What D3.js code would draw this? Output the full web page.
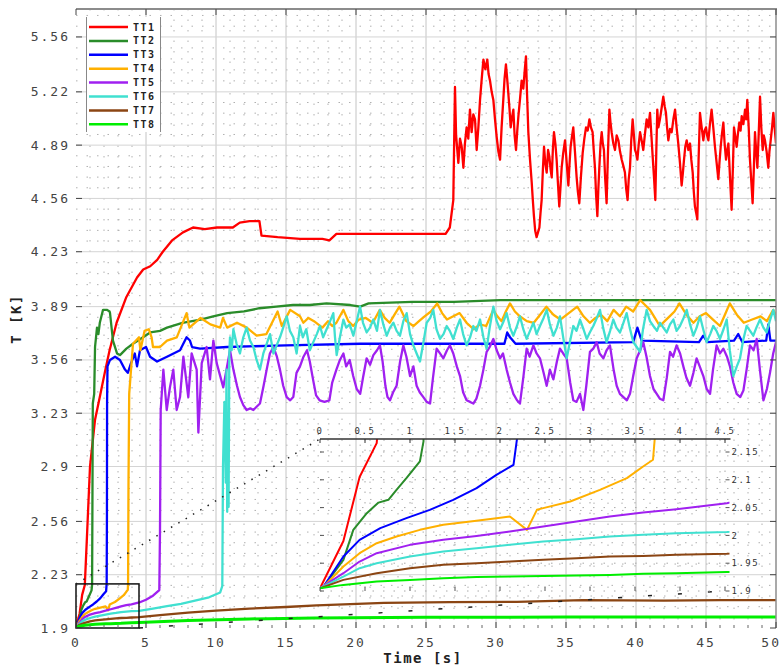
<!DOCTYPE html>
<html>
<head>
<meta charset="utf-8">
<script src="https://cdn.jsdelivr.net/npm/d3@7"></script>
<style>
  body { margin: 0; background: #fff; }
  svg { display: block; }
  text { font-family: "DejaVu Sans Mono", "Liberation Mono", monospace; }
</style>
</head>
<body>
<svg id="chart" width="781" height="666"></svg>
<script>
// ---- data: temperature sensors TT1..TT8, [time s, T K] ----
const seriesNames = ["TT1", "TT2", "TT3", "TT4", "TT5", "TT6", "TT7", "TT8"];
const seriesColors = ["#ff0000", "#2a8c2a", "#0000ff", "#ffb000", "#a020f0", "#40e0d0", "#8b4513", "#00ee00"];

const tt1 = [[0,1.905],[0.26,1.99],[0.44,2.105],[0.63,2.166],[0.8,2.5],[1.0,2.9],[1.36,3.19],[1.7,3.33],[2.1,3.5],[2.4,3.62],[2.9,3.79],[3.6,3.95],[4.36,4.07],[4.8,4.12],[5.3,4.14],[5.8,4.18],[6.2,4.23],[6.86,4.3],[7.64,4.35],[8.36,4.38],[9.2,4.37],[10.07,4.38],[11.2,4.38],[11.7,4.41],[12.4,4.42],[13.1,4.42],[13.25,4.33],[14.4,4.32],[16.0,4.31],[17.6,4.31],[18.1,4.30],[18.6,4.34],[22.0,4.34],[26.4,4.34],[26.7,4.38],
  [26.95,4.55],[27.07,5.25],[27.15,4.95],[27.31,4.78],[27.43,4.93],[27.55,4.88],[27.67,4.75],[27.78,4.9],[27.9,5.0],[28.02,4.93],[28.14,5.11],[28.26,4.97],[28.38,5.08],[28.5,5.05],[28.62,4.86],[28.74,5.0],[28.86,5.17],[28.98,5.3],[29.1,5.42],[29.24,5.36],[29.38,5.42],[29.47,5.33],[29.57,5.29],[29.69,5.22],[29.81,5.17],[29.93,5.05],[30.05,4.94],[30.17,4.85],[30.29,4.8],[30.4,5.0],[30.52,5.17],[30.61,5.3],[30.71,5.39],[30.8,5.3],[30.88,5.21],[30.96,5.12],[31.05,5.0],[31.14,5.06],[31.24,5.11],[31.33,4.95],[31.43,4.86],[31.52,4.98],[31.6,5.07],[31.72,5.18],[31.83,5.29],[31.95,5.24],[32.05,5.35],[32.14,5.44],[32.22,5.2],[32.31,4.97],[32.43,4.8],[32.55,4.66],[32.63,4.55],[32.71,4.45],[32.8,4.36],[32.9,4.32],[33.0,4.35],[33.1,4.38],[33.18,4.47],[33.26,4.55],[33.35,4.74],[33.43,4.88],[33.52,4.78],[33.62,4.72],[33.72,4.86],[33.81,4.82],[33.9,4.74],[33.98,4.69],[34.06,4.86],[34.14,4.97],[34.24,4.9],[34.33,4.8],[34.42,4.66],[34.52,4.51],[34.6,4.62],[34.69,4.75],[34.8,4.84],[34.93,4.92],[35.05,4.78],[35.17,4.64],[35.25,4.77],[35.33,4.88],[35.42,4.94],[35.52,5.0],[35.64,4.85],[35.76,4.69],[35.85,4.6],[35.95,4.53],[36.07,4.7],[36.19,4.84],[36.31,4.93],[36.43,5.0],[36.55,4.98],[36.67,5.05],[36.78,5.0],[36.9,4.97],[36.98,4.86],[37.07,4.75],[37.15,4.58],[37.24,4.45],[37.31,4.62],[37.38,4.75],[37.47,4.9],[37.55,4.97],[37.63,4.9],[37.71,4.86],[37.8,4.68],[37.9,4.53],[38.0,4.85],[38.1,5.11],[38.18,5.03],[38.26,4.97],[38.38,4.9],[38.5,4.86],[38.62,4.95],[38.74,4.92],[38.86,4.85],[38.98,4.8],[39.1,4.76],[39.21,4.72],[39.3,4.62],[39.4,4.55],[39.48,4.68],[39.57,4.75],[39.66,4.92],[39.76,5.05],[39.85,4.95],[39.93,4.86],[40.01,4.84],[40.1,4.8],[40.2,4.9],[40.29,4.97],[40.4,4.92],[40.52,4.86],[40.64,4.96],[40.76,5.05],[40.88,5.0],[41.0,5.09],[41.1,4.95],[41.19,4.82],[41.28,4.7],[41.38,4.55],[41.45,4.85],[41.52,5.11],[41.6,5.0],[41.71,5.05],[41.83,5.12],[41.95,5.19],[42.05,5.13],[42.14,5.09],[42.22,5.0],[42.31,4.92],[42.43,4.99],[42.55,4.97],[42.67,5.05],[42.79,5.11],[42.9,5.0],[43.02,4.9],[43.14,4.78],[43.26,4.64],[43.35,4.72],[43.43,4.8],[43.52,4.88],[43.62,4.92],[43.74,4.86],[43.86,4.9],[43.95,4.8],[44.05,4.72],[44.13,4.6],[44.21,4.51],[44.3,4.47],[44.38,4.43],[44.47,4.8],[44.57,5.09],[44.69,5.0],[44.81,4.92],[44.9,4.98],[45.0,5.0],[45.08,4.95],[45.17,4.92],[45.28,5.02],[45.4,5.11],[45.52,5.0],[45.64,4.88],[45.76,4.78],[45.88,4.68],[45.96,4.78],[46.05,4.88],[46.14,4.96],[46.24,5.03],[46.33,4.9],[46.43,4.8],[46.52,4.86],[46.6,4.9],[46.71,4.7],[46.83,4.49],[46.92,4.75],[47.0,5.0],[47.1,4.94],[47.19,4.88],[47.28,4.96],[47.38,5.03],[47.47,4.98],[47.55,5.07],[47.67,5.02],[47.79,5.11],[47.87,5.05],[47.95,5.17],[48.05,5.0],[48.14,4.8],[48.24,4.66],[48.33,4.53],[48.42,4.75],[48.5,4.97],[48.58,4.86],[48.67,4.75],[48.76,4.95],[48.86,5.19],[48.95,5.0],[49.05,4.86],[49.13,4.95],[49.21,4.92],[49.33,4.85],[49.45,4.75],[49.53,4.85],[49.62,4.92],[49.72,5.0],[49.81,5.09],[49.9,5.0],[50.0,4.9]];

const tt2 = [[0,1.905],[0.04,1.908],[0.26,1.956],[0.37,2.01],[0.52,2.04],[0.65,2.059],[0.76,2.064],[0.85,2.082],[0.96,2.103],[1.11,2.133],[1.15,2.169],[1.17,2.6],[1.2,3.29],[1.3,3.35],[1.36,3.64],[1.5,3.76],[1.6,3.72],[1.7,3.79],[1.93,3.87],[2.2,3.87],[2.4,3.86],[2.43,3.85],[2.64,3.68],[2.93,3.6],[3.14,3.59],[3.6,3.63],[4.07,3.66],[4.6,3.69],[5.3,3.73],[6.0,3.74],[6.5,3.76],[7.6,3.79],[8.9,3.81],[9.8,3.83],[10.8,3.85],[12.0,3.86],[13.1,3.88],[14.3,3.89],[15.5,3.9],[16.7,3.9],[17.9,3.91],[19.6,3.9],[20.3,3.89],[20.9,3.91],[24.0,3.92],[27.0,3.92],[30.3,3.93],[35.0,3.93],[40.0,3.93],[45.0,3.93],[50.0,3.93]];

const tt3 = [[0,1.905],[0.04,1.908],[0.26,1.962],[0.44,1.992],[0.67,2.013],[0.96,2.031],[1.22,2.046],[1.48,2.064],[1.74,2.085],[1.96,2.109],[2.15,2.127],[2.19,2.175],[2.21,2.6],[2.22,3.3],[2.25,3.52],[2.43,3.56],[2.79,3.58],[3.14,3.56],[3.5,3.5],[3.7,3.48],[3.93,3.54],[4.2,3.6],[4.36,3.52],[4.57,3.62],[5.0,3.64],[5.29,3.58],[5.79,3.55],[6.5,3.58],[7.43,3.62],[7.9,3.70],[8.14,3.68],[8.29,3.64],[8.86,3.63],[10.8,3.64],[15.0,3.65],[20.3,3.66],[30.0,3.66],[30.6,3.66],[30.8,3.73],[31.0,3.7],[31.4,3.66],[39.8,3.67],[40.1,3.76],[40.4,3.68],[44.5,3.67],[44.8,3.71],[45.1,3.67],[47.0,3.68],[47.3,3.72],[47.6,3.67],[49.3,3.68],[49.45,3.78],[49.6,3.68],[50.0,3.68]];

const tt4 = [[0,1.905],[0.04,1.908],[0.26,1.944],[0.44,1.968],[0.63,1.986],[0.85,1.998],[1.11,2.01],[1.37,2.019],[1.67,2.025],[1.96,2.031],[2.11,2.034],[2.3,2.01],[2.41,2.046],[2.48,2.049],[2.78,2.061],[3.11,2.082],[3.41,2.103],[3.59,2.124],[3.7,2.136],[3.72,2.175],[3.75,2.8],[3.8,3.35],[4.07,3.66],[4.5,3.7],[4.6,3.62],[4.9,3.74],[5.2,3.75],[5.4,3.7],[5.5,3.64],[6.0,3.64],[6.5,3.68],[7.2,3.7],[7.9,3.85],[8.1,3.76],[8.9,3.82],[9.6,3.78],[10.3,3.76],[10.5,3.82],[10.8,3.76],[11.5,3.79],[12.2,3.76],[12.9,3.71],[13.6,3.72],[14.4,3.86],[14.7,3.77],[15.3,3.87],
  [16.0,3.83],[16.24,3.79],[16.6,3.82],[17.0,3.8],[17.3,3.78],[17.6,3.76],[18.0,3.8],[18.3,3.77],[18.6,3.79],[18.85,3.83],[19.1,3.87],[19.45,3.8],[19.8,3.77],[20.2,3.81],[20.7,3.82],[21.2,3.79],[21.7,3.87],[22.05,3.82],[22.4,3.79],[22.75,3.84],[23.1,3.89],[23.6,3.8],[24.1,3.77],[24.5,3.8],[24.9,3.83],[25.35,3.86],[25.8,3.91],[26.15,3.85],[26.5,3.81],[26.95,3.83],[27.4,3.85],[27.9,3.79],[28.4,3.75],[28.85,3.78],[29.3,3.77],[29.55,3.82],[29.8,3.87],[30.1,3.83],[30.4,3.8],[30.7,3.86],[31.0,3.91],[31.35,3.86],[31.7,3.83],[32.2,3.8],[32.7,3.79],[33.15,3.84],[33.6,3.89],[34.1,3.84],[34.6,3.81],[35.2,3.85],[35.8,3.89],[36.25,3.83],[36.7,3.79],[37.1,3.82],[37.5,3.84],[37.95,3.8],[38.4,3.87],[38.85,3.83],[39.3,3.89],[39.8,3.86],[40.3,3.93],[40.65,3.9],[41.0,3.87],[41.35,3.82],[41.7,3.77],[42.05,3.8],[42.4,3.83],[42.75,3.86],[43.1,3.91],[43.6,3.84],[44.1,3.79],[44.55,3.83],[45.0,3.85],[45.5,3.81],[46.0,3.77],[46.35,3.84],[46.7,3.91],[47.2,3.84],[47.7,3.79],[48.3,3.81],[48.9,3.83],[49.35,3.8],[49.8,3.87],[50.0,3.84]];

const tt5 = [[0,1.905],[0.26,1.932],[0.44,1.953],[0.63,1.968],[1.0,1.983],[1.37,1.992],[1.74,1.999],[2.11,2.007],[2.48,2.016],[2.85,2.025],[3.22,2.034],[3.59,2.041],[3.96,2.047],[4.52,2.058],[5.0,2.075],[5.5,2.1],[5.95,2.135],[6.0,2.5],[6.05,3.25],[6.24,3.50],[6.48,3.25],[6.71,3.39],[6.95,3.50],[7.19,3.25],[7.43,3.33],[7.67,3.58],[8.02,3.33],[8.26,3.60],[8.62,3.50],[8.74,3.11],[8.98,3.54],[9.33,3.64],[9.57,3.44],[9.81,3.68],[10.05,3.54],[10.52,3.39],[11.0,3.62],[11.24,3.50],[11.5,3.4],[11.71,3.33],[11.95,3.28],[12.19,3.25],[12.45,3.26],[12.67,3.25],[12.9,3.27],[13.14,3.29],[13.4,3.4],[13.62,3.50],[13.85,3.6],[14.1,3.64],[14.35,3.58],[14.57,3.50],[14.8,3.4],[15.05,3.33],[15.3,3.31],[15.52,3.33],[15.75,3.48],
  [16.0,3.52],[16.25,3.58],[16.5,3.62],[16.7,3.55],[16.95,3.43],[17.15,3.34],[17.4,3.31],[17.75,3.30],[18.1,3.31],[18.3,3.42],[18.6,3.50],[18.85,3.56],[19.1,3.60],[19.3,3.52],[19.55,3.56],[19.8,3.46],[20.05,3.38],[20.3,3.35],[20.5,3.45],[20.76,3.57],[21.0,3.53],[21.24,3.59],[21.5,3.62],[21.71,3.65],[21.9,3.55],[22.1,3.4],[22.25,3.33],[22.43,3.31],[22.65,3.36],[22.9,3.40],[23.15,3.55],[23.38,3.65],[23.6,3.58],[23.86,3.46],[24.1,3.52],[24.33,3.40],[24.55,3.36],[24.81,3.33],[25.05,3.30],[25.29,3.29],[25.5,3.45],[25.76,3.63],[26.0,3.6],[26.24,3.57],[26.5,3.62],[26.71,3.65],[26.95,3.6],[27.2,3.52],[27.43,3.46],[27.65,3.36],[27.9,3.31],[28.15,3.30],[28.38,3.29],[28.6,3.32],[28.86,3.40],[29.1,3.5],[29.33,3.61],[29.55,3.64],[29.81,3.69],[30.05,3.62],[30.29,3.57],[30.5,3.6],[30.76,3.50],[31.0,3.42],[31.24,3.35],[31.5,3.31],[31.71,3.29],[31.95,3.45],[32.19,3.63],[32.4,3.58],[32.67,3.65],[32.9,3.6],[33.14,3.57],[33.4,3.48],[33.62,3.40],[33.85,3.5],[34.1,3.44],[34.35,3.55],[34.57,3.63],[34.8,3.6],[35.05,3.57],[35.3,3.42],[35.52,3.31],[35.75,3.3],[36.0,3.35],[36.24,3.25],[36.45,3.4],[36.71,3.61],[36.95,3.63],[37.19,3.67],[37.4,3.6],[37.67,3.57],[37.9,3.62],[38.14,3.65],[38.4,3.5],[38.62,3.40],[38.85,3.35],[39.1,3.33],[39.35,3.31],[39.57,3.35],[39.8,3.46],[40.05,3.57],[40.3,3.62],[40.52,3.67],[40.75,3.58],[41.0,3.46],[41.25,3.38],[41.48,3.35],[41.7,3.32],[41.95,3.31],[42.2,3.45],[42.43,3.61],[42.65,3.58],[42.9,3.65],[43.15,3.6],[43.38,3.52],[43.6,3.45],[43.86,3.40],[44.1,3.48],[44.33,3.57],[44.55,3.52],[44.81,3.46],[45.05,3.38],[45.29,3.35],[45.5,3.5],[45.76,3.65],[46.0,3.6],[46.24,3.63],[46.5,3.58],[46.71,3.52],[46.95,3.42],[47.19,3.35],[47.45,3.33],[47.67,3.37],[47.9,3.5],[48.14,3.65],[48.4,3.62],[48.62,3.69],[48.85,3.5],[49.1,3.31],[49.35,3.38],[49.57,3.48],[49.8,3.6],[50.0,3.67]];

const tt6 = [[0,1.905],[0.26,1.926],[0.44,1.941],[0.63,1.95],[1.0,1.962],[1.37,1.971],[1.74,1.977],[2.11,1.983],[2.48,1.989],[2.85,1.993],[3.22,1.998],[3.59,2.001],[3.96,2.004],[4.52,2.006],[5.5,2.02],[6.5,2.035],[7.5,2.05],[8.5,2.07],[9.5,2.09],[10.3,2.12],[10.45,2.16],[10.5,2.9],[10.6,3.3],[10.7,2.8],[10.75,3.5],[10.8,2.62],[10.85,3.2],[10.9,2.65],[10.95,3.6],
  [11.0,3.70],[11.12,3.62],[11.24,3.75],[11.47,3.66],[11.71,3.60],[11.95,3.7],[12.19,3.76],[12.43,3.68],[12.67,3.64],[12.9,3.56],[13.14,3.50],[13.38,3.6],[13.62,3.66],[13.86,3.72],[14.1,3.60],[14.33,3.65],[14.57,3.70],[14.8,3.76],[15.05,3.83],[15.28,3.74],[15.52,3.70],[15.76,3.6],[16.0,3.77],[16.2,3.7],[16.45,3.75],[16.7,3.62],[16.95,3.67],[17.2,3.72],[17.43,3.77],[17.65,3.7],[17.9,3.75],[18.15,3.8],[18.38,3.85],[18.5,3.7],[18.62,3.59],[18.85,3.7],[19.1,3.81],[19.3,3.76],[19.55,3.78],[19.81,3.71],[20.05,3.8],[20.29,3.89],[20.5,3.79],[20.76,3.73],[21.0,3.76],[21.24,3.81],[21.5,3.74],[21.71,3.87],[21.95,3.78],[22.19,3.71],[22.43,3.76],[22.67,3.79],[22.9,3.74],[23.14,3.71],[23.38,3.8],[23.62,3.85],[23.86,3.72],[24.1,3.65],[24.33,3.6],[24.57,3.55],[24.8,3.66],[25.05,3.79],[25.3,3.82],[25.52,3.87],[25.75,3.75],[26.0,3.69],[26.25,3.72],[26.48,3.77],[26.7,3.74],[26.95,3.69],[27.2,3.76],[27.43,3.81],[27.65,3.72],[27.9,3.65],[28.15,3.7],[28.38,3.77],[28.6,3.74],[28.86,3.81],[29.1,3.7],[29.33,3.63],[29.55,3.76],[29.81,3.89],[30.05,3.8],[30.29,3.75],[30.5,3.79],[30.76,3.85],[31.0,3.76],[31.24,3.71],[31.5,3.77],[31.71,3.83],[31.95,3.75],[32.19,3.69],[32.43,3.74],[32.67,3.79],[32.9,3.72],[33.14,3.77],[33.4,3.82],[33.62,3.87],[33.85,3.78],[34.1,3.71],[34.35,3.76],[34.57,3.83],[34.8,3.7],[35.05,3.57],[35.3,3.68],[35.52,3.77],[35.75,3.74],[36.0,3.81],[36.25,3.75],[36.48,3.69],[36.7,3.73],[36.95,3.77],[37.2,3.82],[37.43,3.87],[37.65,3.76],[37.9,3.67],[38.15,3.74],[38.38,3.81],[38.6,3.76],[38.86,3.73],[39.1,3.79],[39.33,3.85],[39.55,3.76],[39.81,3.67],[40.05,3.64],[40.29,3.61],[40.5,3.75],[40.76,3.87],[41.0,3.8],[41.24,3.77],[41.5,3.74],[41.71,3.79],[41.95,3.76],[42.19,3.73],[42.43,3.78],[42.67,3.81],[42.9,3.74],[43.14,3.77],[43.4,3.82],[43.62,3.87],[43.86,3.78],[44.1,3.71],[44.33,3.76],[44.57,3.83],[44.8,3.75],[45.05,3.67],[45.3,3.72],[45.52,3.77],[45.75,3.74],[46.0,3.69],[46.25,3.75],[46.48,3.81],[46.7,3.62],[46.95,3.46],[47.2,3.52],[47.43,3.57],[47.65,3.68],[47.9,3.77],[48.15,3.74],[48.38,3.71],[48.6,3.76],[48.86,3.81],[49.1,3.76],[49.33,3.73],[49.55,3.8],[49.81,3.87],[50.0,3.8]];

const tt7 = [[0,1.905],[0.26,1.92],[0.63,1.932],[1.0,1.941],[1.37,1.947],[1.74,1.95],[2.11,1.953],[2.48,1.956],[2.85,1.959],[3.22,1.962],[3.59,1.963],[3.96,1.965],[4.52,1.967],[6.0,1.98],[8.0,1.995],[10.0,2.008],[12.4,2.02],[15.0,2.03],[17.2,2.04],[22.0,2.055],[26.7,2.06],[31.5,2.062],[36.2,2.073],[42.0,2.07],[46.0,2.072],[50.0,2.073]];

const tt8 = [[0,1.905],[0.26,1.911],[0.63,1.917],[1.0,1.92],[1.37,1.923],[1.74,1.925],[2.11,1.926],[2.48,1.927],[2.85,1.928],[3.22,1.929],[3.59,1.931],[3.96,1.932],[4.52,1.934],[8.0,1.947],[12.4,1.956],[17.0,1.962],[25.0,1.966],[35.0,1.968],[50.0,1.968]];

const seriesData = [tt1, tt2, tt3, tt4, tt5, tt6, tt7, tt8];

// axis ticks
const xTicks = [0, 5, 10, 15, 20, 25, 30, 35, 40, 45, 50];
const yTicks = [1.9, 2.23, 2.56, 2.9, 3.23, 3.56, 3.89, 4.23, 4.56, 4.89, 5.22, 5.56];
const insetXTicks = [0, 0.5, 1, 1.5, 2, 2.5, 3, 3.5, 4, 4.5];
const insetYTicks = [1.9, 1.95, 2, 2.05, 2.1, 2.15];

// ---- layout ----
const svg = d3.select("#chart");
const P = { left: 76, right: 776, top: 9, bottom: 628 };
const x = d3.scaleLinear().domain([0, 50]).range([P.left, P.right]);
const y = d3.scaleLinear().domain([1.9, 5.733]).range([P.bottom, P.top]);

// window of the main plot that the inset magnifies
const zoomT = [0, 4.5], zoomV = [1.9, 2.173];
const I = { left: 320, right: 729.5, top: 439, bottom: 591 };
const ix = d3.scaleLinear().domain([0, 4.55]).range([I.left, I.right]);
const iy = d3.scaleLinear().domain([1.9, 2.15]).range([591, 452]);

const defs = svg.append("defs");
defs.append("clipPath").attr("id", "clipMain").append("rect")
  .attr("x", P.left).attr("y", P.top).attr("width", P.right - P.left).attr("height", P.bottom - P.top);
defs.append("clipPath").attr("id", "clipInset").append("rect")
  .attr("x", I.left).attr("y", I.top).attr("width", I.right - I.left).attr("height", I.bottom - I.top + 2);

// ---- grid ----
const grid = svg.append("g");
const xMinor = d3.range(1, 50).filter(v => v % 5 !== 0);
const yMinor = [];
for (let i = 0; i < yTicks.length - 1; i++) {
  const a = yTicks[i], b = yTicks[i + 1];
  for (let k = 1; k < 5; k++) yMinor.push(a + (b - a) * k / 5);
}
{
  const step = (yTicks[yTicks.length - 1] - yTicks[0]) / (yTicks.length - 1) / 5;
  for (let v = yTicks[yTicks.length - 1] + step; v < y.domain()[1]; v += step) yMinor.push(v);
}
grid.selectAll(".xminor").data(xMinor).join("line")
  .attr("x1", d => x(d)).attr("x2", d => x(d)).attr("y1", P.top).attr("y2", P.bottom)
  .attr("stroke", "#b0b0b0").attr("stroke-width", 1).attr("stroke-dasharray", "1.5,9");
grid.selectAll(".yminor").data(yMinor).join("line")
  .attr("x1", P.left).attr("x2", P.right).attr("y1", d => y(d)).attr("y2", d => y(d))
  .attr("stroke", "#b0b0b0").attr("stroke-width", 1).attr("stroke-dasharray", "1.5,9");
grid.selectAll(".xmajor").data(xTicks.slice(1, -1)).join("line")
  .attr("x1", d => x(d)).attr("x2", d => x(d)).attr("y1", P.top).attr("y2", P.bottom)
  .attr("stroke", "#c4c4c4").attr("stroke-width", 1);
grid.selectAll(".ymajor").data(yTicks.slice(1)).join("line")
  .attr("x1", P.left).attr("x2", P.right).attr("y1", d => y(d)).attr("y2", d => y(d))
  .attr("stroke", "#d4d4d4").attr("stroke-width", 1);

// ---- main series ----
const line = d3.line().x(d => x(d[0])).y(d => y(d[1]));
const main = svg.append("g").attr("clip-path", "url(#clipMain)");
seriesData.forEach((data, i) => {
  main.append("path").datum(data).attr("d", line)
    .attr("fill", "none").attr("stroke", seriesColors[i])
    .attr("stroke-width", i === 7 ? 3 : 2.3).attr("stroke-linejoin", "round");
});

// ---- zoom box and connectors ----
svg.append("rect")
  .attr("x", x(zoomT[0])).attr("y", y(zoomV[1]))
  .attr("width", x(zoomT[1]) - x(zoomT[0])).attr("height", y(zoomV[0]) - y(zoomV[1]))
  .attr("fill", "none").attr("stroke", "#111").attr("stroke-width", 1.5);
svg.append("line")
  .attr("x1", x(zoomT[0])).attr("y1", y(zoomV[1])).attr("x2", ix(zoomT[0])).attr("y2", I.top)
  .attr("stroke", "#222").attr("stroke-width", 1.5).attr("stroke-dasharray", "1.5,7");
svg.append("line")
  .attr("x1", x(zoomT[1])).attr("y1", y(zoomV[0])).attr("x2", ix(zoomT[1])).attr("y2", iy(1.9))
  .attr("stroke", "#222").attr("stroke-width", 1.5).attr("stroke-dasharray", "4,26");

// ---- inset (transparent, drawn over the main plot) ----
const inset = svg.append("g");
inset.selectAll(".igx").data(insetXTicks.slice(1)).join("line")
  .attr("x1", d => ix(d)).attr("x2", d => ix(d)).attr("y1", I.top).attr("y2", I.bottom)
  .attr("stroke", "#a8a8a8").attr("stroke-dasharray", "1.5,9");
inset.selectAll(".igy").data(insetYTicks).join("line")
  .attr("x1", I.left).attr("x2", I.right).attr("y1", d => iy(d)).attr("y2", d => iy(d))
  .attr("stroke", "#a8a8a8").attr("stroke-dasharray", "1.5,9");
const iline = d3.line().x(d => ix(d[0])).y(d => iy(d[1]));
const insetLines = inset.append("g").attr("clip-path", "url(#clipInset)");
seriesData.forEach((data, i) => {
  insetLines.append("path").datum(data).attr("d", iline)
    .attr("fill", "none").attr("stroke", seriesColors[i])
    .attr("stroke-width", 2).attr("stroke-linejoin", "round");
});
// inset top axis
inset.append("line").attr("x1", I.left).attr("x2", I.right + 1).attr("y1", I.top).attr("y2", I.top)
  .attr("stroke", "#333").attr("stroke-width", 1.5);
inset.selectAll(".itx").data(insetXTicks).join("line")
  .attr("x1", d => ix(d)).attr("x2", d => ix(d)).attr("y1", I.top).attr("y2", I.top + 4)
  .attr("stroke", "#333");
inset.selectAll(".itb").data(insetXTicks).join("line")
  .attr("x1", d => ix(d)).attr("x2", d => ix(d)).attr("y1", I.bottom - 4).attr("y2", I.bottom)
  .attr("stroke", "#555");
inset.selectAll(".ixl").data(insetXTicks).join("text")
  .attr("x", d => ix(d)).attr("y", I.top - 5)
  .attr("text-anchor", "middle").attr("font-size", 9).attr("letter-spacing", 1.5)
  .attr("fill", "#333").text(d => String(d));
inset.selectAll(".ity").data(insetYTicks).join("line")
  .attr("x1", I.left).attr("x2", I.left + 4).attr("y1", d => iy(d)).attr("y2", d => iy(d))
  .attr("stroke", "#555");
inset.selectAll(".ityr").data(insetYTicks).join("line")
  .attr("x1", I.right - 4).attr("x2", I.right).attr("y1", d => iy(d)).attr("y2", d => iy(d))
  .attr("stroke", "#555");
inset.selectAll(".iyl").data(insetYTicks).join("text")
  .attr("x", I.right + 2).attr("y", d => iy(d)).attr("dy", "0.35em")
  .attr("font-size", 9).attr("letter-spacing", 1.5).attr("fill", "#333")
  .text(d => String(d));

// ---- frame and ticks ----
const frame = svg.append("g");
frame.append("line").attr("x1", P.left).attr("x2", P.right + 1).attr("y1", P.top).attr("y2", P.top)
  .attr("stroke", "#8c8c8c").attr("stroke-width", 2);
frame.append("line").attr("x1", P.right).attr("x2", P.right).attr("y1", P.top).attr("y2", P.bottom)
  .attr("stroke", "#8c8c8c").attr("stroke-width", 1.5);
frame.selectAll(".tl").data(yTicks).join("line")
  .attr("x1", P.left).attr("x2", P.left + 6).attr("y1", d => y(d)).attr("y2", d => y(d))
  .attr("stroke", "#444");
frame.selectAll(".tr").data(yTicks).join("line")
  .attr("x1", P.right - 6).attr("x2", P.right).attr("y1", d => y(d)).attr("y2", d => y(d))
  .attr("stroke", "#444");
frame.selectAll(".tt").data(xTicks).join("line")
  .attr("x1", d => x(d)).attr("x2", d => x(d)).attr("y1", P.top).attr("y2", P.top + 6)
  .attr("stroke", "#444");
frame.selectAll(".tb").data(xTicks).join("line")
  .attr("x1", d => x(d)).attr("x2", d => x(d)).attr("y1", P.bottom - 6).attr("y2", P.bottom)
  .attr("stroke", "#444");
frame.selectAll(".tbm").data(xMinor).join("line")
  .attr("x1", d => x(d)).attr("x2", d => x(d)).attr("y1", P.bottom - 3).attr("y2", P.bottom)
  .attr("stroke", "#666");

// tick labels
svg.selectAll(".yl").data(yTicks).join("text")
  .attr("x", 70).attr("y", d => y(d)).attr("dy", "0.35em")
  .attr("text-anchor", "end").attr("font-size", 13).attr("letter-spacing", 2)
  .attr("fill", "#444").text(d => String(d));
svg.selectAll(".xl").data(xTicks).join("text")
  .attr("x", (d, i) => i === xTicks.length - 1 ? 781 : x(d)).attr("y", 647)
  .attr("text-anchor", (d, i) => i === xTicks.length - 1 ? "end" : "middle")
  .attr("font-size", 13).attr("letter-spacing", 2)
  .attr("fill", "#444").text(d => String(d));

// axis titles
svg.append("text").attr("x", 423).attr("y", 663).attr("text-anchor", "middle")
  .attr("font-size", 14).attr("font-weight", "bold").attr("letter-spacing", 1.5)
  .attr("fill", "#222").text("Time [s]");
svg.append("text").attr("transform", "translate(21,319) rotate(-90)").attr("text-anchor", "middle")
  .attr("font-size", 14).attr("font-weight", "bold").attr("letter-spacing", 1.5)
  .attr("fill", "#222").text("T [K]");

// ---- legend ----
const legend = svg.append("g");
legend.append("rect").attr("x", 86).attr("y", 17).attr("width", 74).attr("height", 115).attr("fill", "#fff");
legend.append("line").attr("x1", 86.5).attr("x2", 86.5).attr("y1", 17).attr("y2", 132).attr("stroke", "#888");
legend.append("line").attr("x1", 160.5).attr("x2", 160.5).attr("y1", 17).attr("y2", 132).attr("stroke", "#888");
seriesNames.forEach((name, i) => {
  const ly = 27 + i * 13.9;
  legend.append("line").attr("x1", 89).attr("x2", 128).attr("y1", ly).attr("y2", ly)
    .attr("stroke", seriesColors[i]).attr("stroke-width", 2.5);
  legend.append("text").attr("x", 133).attr("y", ly).attr("dy", "0.35em")
    .attr("font-size", 10).attr("font-weight", "bold").attr("letter-spacing", 1.5)
    .attr("fill", "#222").text(name);
});
</script>
</body>
</html>
